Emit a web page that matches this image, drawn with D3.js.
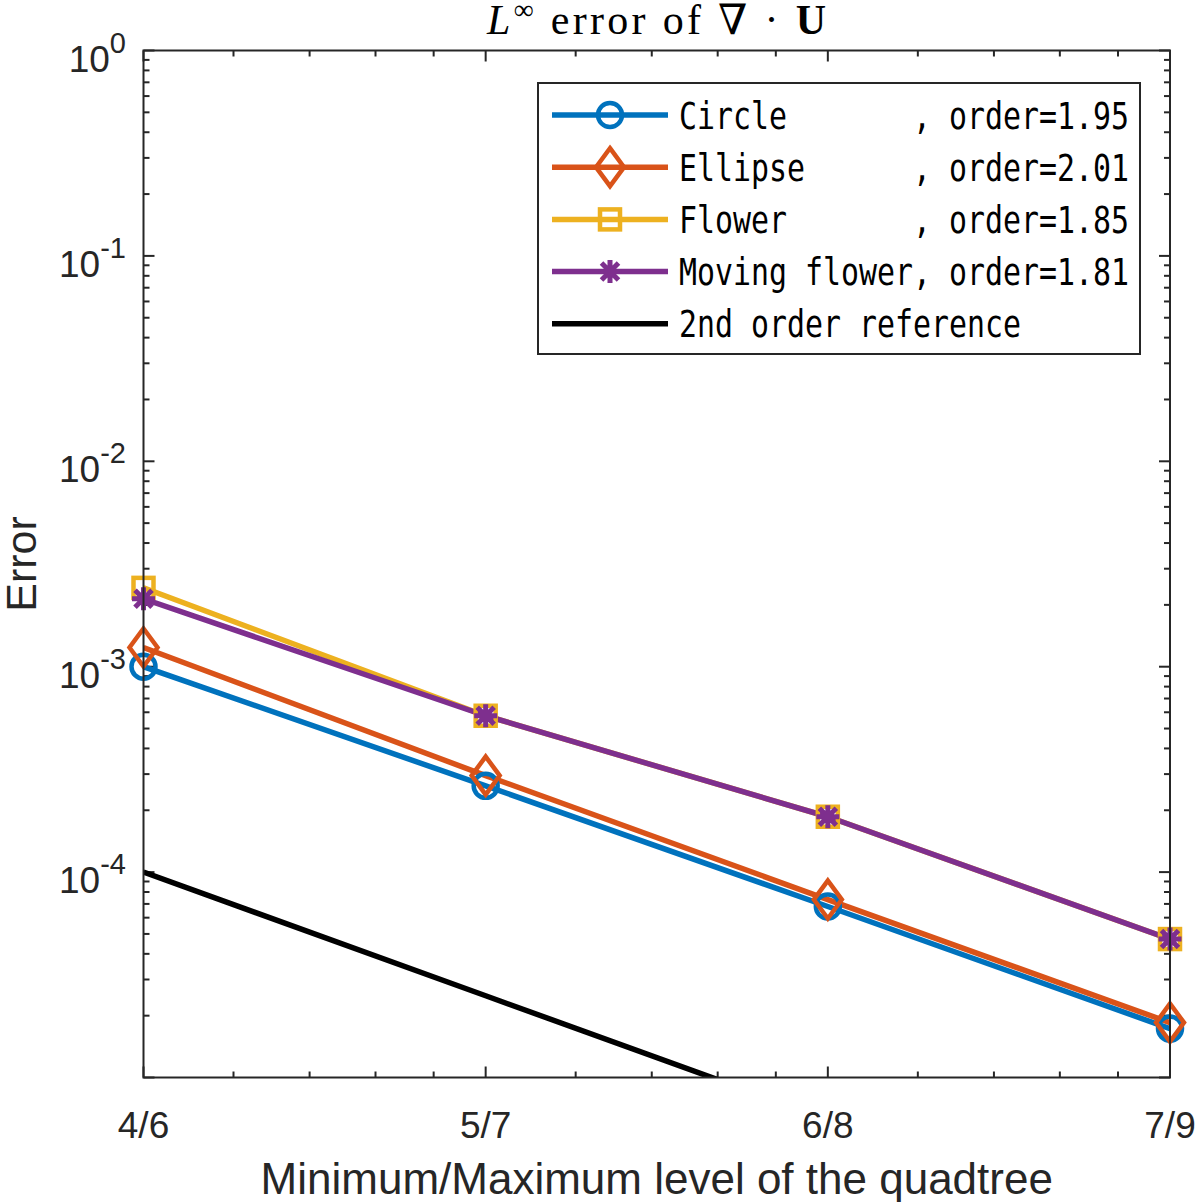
<!DOCTYPE html>
<html>
<head>
<meta charset="utf-8">
<script src="https://cdn.jsdelivr.net/npm/d3@7"></script>
<style>
  html, body { margin: 0; padding: 0; background: #fff; }
  svg { display: block; }
  text { white-space: pre; }
</style>
</head>
<body>
<svg id="chart" width="1197" height="1202"></svg>
<script>
// ---- data ----
const levelLabels = ["4/6", "5/7", "6/8", "7/9"];
const resolution = [16, 32, 64, 128];
const circleErr = [1.0e-3, 2.63e-4, 6.8e-5, 1.73e-5];
const ellipseErr = [1.24e-3, 2.95e-4, 7.35e-5, 1.85e-5];
const flowerErr = [2.42e-3, 5.77e-4, 1.86e-4, 4.72e-5];
const movingFlowerErr = [2.14e-3, 5.77e-4, 1.86e-4, 4.72e-5];
const referenceErr = [1e-4, 2.5e-5, 6.25e-6, 1.5625e-6];
const seriesNames = ["Circle       ", "Ellipse      ", "Flower       ", "Moving flower", "2nd order reference"];
const seriesOrders = ["1.95", "2.01", "1.85", "1.81", null];
const yTickExps = [-4, -3, -2, -1, 0];
const xMinorFactors = [1.2, 1.4, 1.6, 1.8];

const colors = ["#0072BD", "#D95319", "#EDB120", "#7E2F8E", "#000000"];
const markers = ["circle", "diamond", "square", "asterisk", null];
const seriesData = [circleErr, ellipseErr, flowerErr, movingFlowerErr, referenceErr];

const svg = d3.select("#chart");
const L = 143.5, R = 1170, T = 50.5, B = 1077.5;
const x = d3.scaleLog().base(2).domain([16, 128]).range([L, R]);
const y = d3.scaleLog().domain([1e-5, 1]).range([B, T]);
const axisColor = "#262626";

svg.append("defs").append("clipPath").attr("id", "plotclip")
  .append("rect").attr("x", L).attr("y", T).attr("width", R - L).attr("height", B - T);

// ---- ticks ----
const tg = svg.append("g").attr("stroke", axisColor).attr("stroke-width", 2);
for (let e = -5; e <= 0; e++) {
  const v = Math.pow(10, e);
  const yy = y(v);
  tg.append("line").attr("x1", L).attr("x2", L + 11).attr("y1", yy).attr("y2", yy);
  tg.append("line").attr("x1", R).attr("x2", R - 11).attr("y1", yy).attr("y2", yy);
  if (e < 0) {
    for (let m = 2; m <= 9; m++) {
      const ym = y(m * v);
      tg.append("line").attr("x1", L).attr("x2", L + 6).attr("y1", ym).attr("y2", ym);
      tg.append("line").attr("x1", R).attr("x2", R - 6).attr("y1", ym).attr("y2", ym);
    }
  }
}
resolution.forEach((r, i) => {
  const xx = x(r);
  tg.append("line").attr("x1", xx).attr("x2", xx).attr("y1", B).attr("y2", B - 11);
  tg.append("line").attr("x1", xx).attr("x2", xx).attr("y1", T).attr("y2", T + 11);
  if (i < resolution.length - 1) {
    xMinorFactors.forEach(f => {
      const xm = x(r * f);
      tg.append("line").attr("x1", xm).attr("x2", xm).attr("y1", B).attr("y2", B - 6);
      tg.append("line").attr("x1", xm).attr("x2", xm).attr("y1", T).attr("y2", T + 6);
    });
  }
});

// ---- series ----
const line = d3.line().x((d, i) => x(resolution[i])).y(d => y(d));
const plotG = svg.append("g").attr("clip-path", "url(#plotclip)");

function drawMarker(g, type, cx, cy, color) {
  if (type === "circle") {
    g.append("circle").attr("cx", cx).attr("cy", cy).attr("r", 12)
      .attr("fill", "none").attr("stroke", color).attr("stroke-width", 4.5);
  } else if (type === "diamond") {
    const w = 14, h = 19;
    g.append("path").attr("d", `M${cx},${cy - h}L${cx + w},${cy}L${cx},${cy + h}L${cx - w},${cy}Z`)
      .attr("fill", "none").attr("stroke", color).attr("stroke-width", 4.5).attr("stroke-linejoin", "miter");
  } else if (type === "square") {
    const s = 10;
    g.append("rect").attr("x", cx - s).attr("y", cy - s).attr("width", 2 * s).attr("height", 2 * s)
      .attr("fill", "none").attr("stroke", color).attr("stroke-width", 4.5);
  } else if (type === "asterisk") {
    const a = 11.5, d = 8.5;
    const p = `M${cx - a},${cy}L${cx + a},${cy}M${cx},${cy - a}L${cx},${cy + a}` +
      `M${cx - d},${cy - d}L${cx + d},${cy + d}M${cx - d},${cy + d}L${cx + d},${cy - d}`;
    g.append("path").attr("d", p).attr("fill", "none").attr("stroke", color).attr("stroke-width", 5);
  }
}

seriesData.forEach((data, si) => {
  plotG.append("path").datum(data).attr("d", line)
    .attr("fill", "none").attr("stroke", colors[si]).attr("stroke-width", 5.5)
    .attr("stroke-linejoin", "round");
  if (markers[si]) {
    data.forEach((v, i) => drawMarker(svg, markers[si], x(resolution[i]), y(v), colors[si]));
  }
});

// ---- axes box ----
svg.append("rect").attr("x", L).attr("y", T).attr("width", R - L).attr("height", B - T)
  .attr("fill", "none").attr("stroke", axisColor).attr("stroke-width", 2);

// ---- tick labels ----
const font = "'Liberation Sans', Arial, Helvetica, sans-serif";
yTickExps.forEach(e => {
  const yy = y(Math.pow(10, e));
  const t = svg.append("text").attr("x", 126).attr("y", yy + 21).attr("text-anchor", "end")
    .attr("font-family", font).attr("fill", axisColor);
  t.append("tspan").attr("font-size", 37).text("10");
  t.append("tspan").attr("font-size", 29).attr("dy", -19).text(e === 0 ? "0" : "-" + Math.abs(e));
});
levelLabels.forEach((lab, i) => {
  svg.append("text").attr("x", x(resolution[i])).attr("y", 1138).attr("text-anchor", "middle")
    .attr("font-family", font).attr("font-size", 37).attr("fill", axisColor).text(lab);
});

// axis labels
svg.append("text").attr("x", (L + R) / 2).attr("y", 1194).attr("text-anchor", "middle")
  .attr("font-family", font).attr("font-size", 44).attr("fill", axisColor)
  .text("Minimum/Maximum level of the quadtree");
svg.append("text").attr("transform", `translate(36,${(T + B) / 2}) rotate(-90)`)
  .attr("text-anchor", "middle").attr("font-family", font).attr("font-size", 43).attr("fill", axisColor)
  .text("Error");

// title
const serif = "'Liberation Serif', 'DejaVu Serif', serif";
const title = svg.append("text").attr("x", 487).attr("y", 34)
  .attr("font-family", serif).attr("font-size", 42).attr("fill", "#000")
  .attr("textLength", 339).attr("lengthAdjust", "spacing");
title.append("tspan").attr("font-style", "italic").text("L");
title.append("tspan").attr("font-size", 28).attr("dy", -15).text("∞");
title.append("tspan").attr("dy", 15).text(" error of ∇ · ");
title.append("tspan").attr("font-weight", "bold").text("U");

// ---- legend ----
const lg = svg.append("g");
lg.append("rect").attr("x", 538).attr("y", 83).attr("width", 602).attr("height", 271)
  .attr("fill", "#fff").attr("stroke", axisColor).attr("stroke-width", 2);
const mono = "'DejaVu Sans Mono', 'Liberation Mono', monospace";
seriesNames.forEach((name, i) => {
  const ry = 115 + i * 52.2;
  lg.append("line").attr("x1", 552).attr("x2", 668).attr("y1", ry).attr("y2", ry)
    .attr("stroke", colors[i]).attr("stroke-width", 5.5);
  if (markers[i]) drawMarker(lg, markers[i], 610, ry, colors[i]);
  const label = seriesOrders[i] ? `${name}, order=${seriesOrders[i]}` : name;
  lg.append("text").attr("x", 679).attr("y", ry + 13.5)
    .attr("font-family", mono).attr("font-size", 37).attr("fill", "#000")
    .attr("textLength", label.length * 18.0).attr("lengthAdjust", "spacingAndGlyphs")
    .text(label);
});
</script>
</body>
</html>
